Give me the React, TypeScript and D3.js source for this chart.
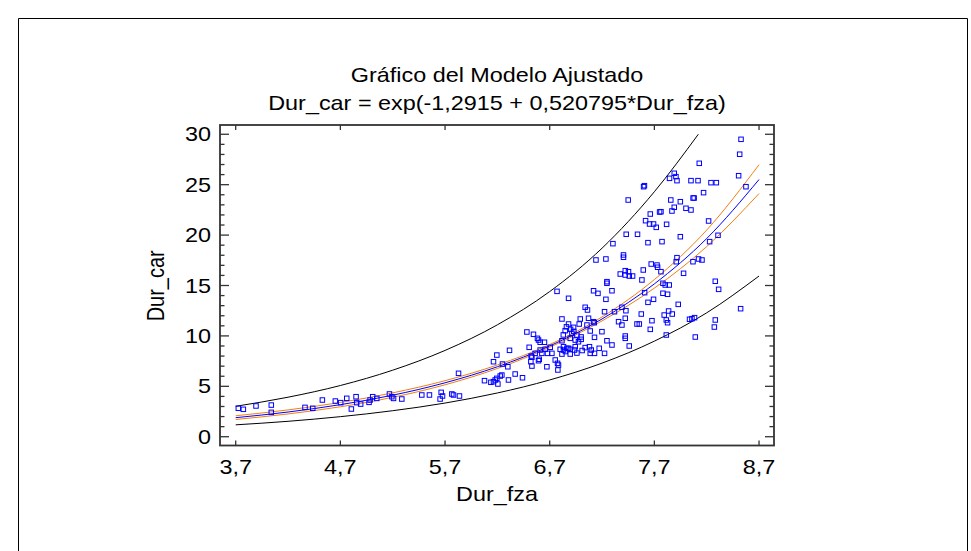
import React from "react";
import * as d3 from "d3";

const title1 = "Gráfico del Modelo Ajustado";
const title2 = "Dur_car = exp(-1,2915 + 0,520795*Dur_fza)";
const xLabel = "Dur_fza";
const yLabel = "Dur_car";

const xTicks = [3.7, 4.7, 5.7, 6.7, 7.7, 8.7];
const xTickLabels = ["3,7", "4,7", "5,7", "6,7", "7,7", "8,7"];
const yTicks = [0, 5, 10, 15, 20, 25, 30];
const yMinorTicks = [1,2,3,4,6,7,8,9,11,12,13,14,16,17,18,19,21,22,23,24,26,27,28,29];

// curves
const curveX = [3.7, 4.2, 4.7, 5.2, 5.7, 6.2, 6.7, 7.2, 7.7, 8.2, 8.7];
const fitY = [1.89, 2.45, 3.18, 4.12, 5.35, 6.94, 9.0, 11.68, 15.16, 19.66, 25.51];
const confUpperY = [2.08, 2.66, 3.40, 4.35, 5.56, 7.12, 9.14, 11.88, 15.59, 20.5, 26.98];
const confLowerY = [1.71, 2.26, 2.97, 3.91, 5.15, 6.77, 8.87, 11.49, 14.74, 18.86, 24.12];
const predUpperX = [3.7, 4.2, 4.7, 5.2, 5.7, 6.2, 6.7, 7.2, 7.7, 8.12];
const predUpperY = [3.02, 3.92, 5.08, 6.6, 8.56, 11.1, 14.4, 18.7, 24.3, 30.0];
const predLowerY = [1.18, 1.53, 1.99, 2.58, 3.34, 4.34, 5.63, 7.3, 9.48, 12.29, 15.94];

const obsX = [
  3.725,3.773,3.894,4.04,4.04,4.362,4.436,4.528,4.652,4.703,4.761,4.805,4.85,4.856,4.894,4.974,4.984,5.009,5.048,5.169,5.192,5.208,5.287,5.478,5.551,5.653,5.663,5.676,5.765,5.781,5.838,5.829,
  6.077,6.138,6.163,6.179,6.195,6.205,6.227,6.243,6.163,6.195,6.249,6.30,6.316,6.306,6.37,6.44,6.482,6.545,6.593,6.609,6.65,6.504,6.523,6.52,6.53,6.561,6.593,6.657,6.673,6.721,6.753,6.784,6.778,6.625,6.6,6.583,6.609,6.679,6.705,6.775,6.53,
  6.77,6.88,6.817,6.88,6.848,6.928,6.992,6.982,7.039,7.061,6.912,6.96,6.817,6.896,6.944,7.001,7.056,7.119,7.087,6.832,6.88,6.944,6.975,
  6.80,6.832,6.864,6.896,6.937,6.896,6.817,7.039,7.08,7.097,7.087,7.128,6.96,7.01,6.85,
  7.142,7.237,7.405,7.405,7.374,7.422,7.422,7.46,7.492,7.453,7.594,7.67,7.581,7.247,7.247,7.119,7.161,7.295,7.237,7.224,7.319,7.39,7.428,7.607,7.639,7.692,7.575,7.422,7.358,7.39,7.534,7.556,7.677,7.661,7.422,7.422,7.247,7.295,7.46,7.173,7.199,7.224,7.128,
  7.071,7.126,6.86,6.9,6.83,6.93,7.0,
  7.597,7.605,7.45,7.661,7.75,7.616,7.654,7.692,7.718,7.431,7.539,7.304,7.639,
  8.528,8.515,8.129,7.89,7.906,7.845,7.916,8.05,8.117,8.241,8.292,8.505,8.17,8.575,7.857,7.948,8.07,8.08,7.89,8.002,8.05,7.868,7.763,8.218,7.817,7.948,8.308,8.228,7.773,7.916,7.909,8.069,8.122,8.155,7.725,7.731,7.763,7.979,7.782,7.804,7.842,8.282,8.314,7.782,7.826,7.928,7.836,7.794,7.871,7.814,7.826,8.036,8.059,8.084,7.814,8.282,8.273,8.091,8.524
];
const obsY = [
  2.82,2.72,3.05,3.14,2.42,2.91,2.82,3.64,3.54,3.38,3.81,2.75,3.97,3.38,3.24,3.41,3.64,3.97,3.80,4.24,3.97,3.80,3.74,4.14,4.14,3.74,4.40,4.04,4.24,4.14,4.04,6.29,
  5.56,5.40,5.46,5.63,5.79,5.23,6.02,6.12,7.44,8.10,7.21,6.94,8.57,5.63,6.22,5.85,10.39,10.16,9.59,9.37,9.37,8.87,8.0,7.44,7.01,8.27,7.54,8.67,6.94,8.27,7.61,7.11,6.62,8.27,7.68,9.76,8.6,8.27,8.87,7.28,7.88,
  14.42,13.73,11.68,11.18,10.52,10.85,11.68,11.18,12.84,12.57,10.26,10.09,9.52,9.76,9.59,9.66,11.08,11.41,10.49,8.93,8.77,8.93,9.42,
  8.67,8.60,8.77,8.67,8.60,8.20,8.20,8.84,8.93,8.60,8.27,8.27,8.3,8.55,8.45,
  17.53,17.63,18.03,17.8,16.14,16.47,16.04,15.94,15.94,16.37,16.54,17.13,15.55,15.38,15.22,14.48,14.22,14.48,13.63,12.4,12.4,12.84,12.5,14.29,13.33,13.63,12.17,11.75,11.41,11.08,11.18,11.18,11.51,10.65,9.99,9.76,9.52,9.10,9.0,8.77,10.42,8.27,9.86,
  11.75,11.31,10.9,10.65,10.1,10.45,9.9,
  24.80,24.90,23.48,22.09,22.29,21.43,21.1,21.1,20.77,20.08,20.08,19.15,19.25,
  29.50,28.02,27.12,26.13,25.80,25.63,25.40,25.40,25.40,25.20,25.20,25.89,24.21,24.80,23.48,23.31,23.68,23.68,22.76,22.66,22.49,22.39,22.32,21.40,21.07,19.84,19.98,19.35,19.35,17.76,17.36,17.36,17.63,17.53,17.03,16.81,16.37,16.21,15.22,15.05,15.05,15.42,14.62,14.23,14.13,13.13,12.47,12.07,12.17,11.58,11.31,11.65,11.71,11.81,10.09,11.58,10.88,9.89,12.70
];

const W = 971;
const H = 551;
const FONT = "'Liberation Sans', Arial, sans-serif";
const FS = 20;
const SX = 1.17;

const x = d3.scaleLinear().domain([3.55, 8.843]).range([220, 774]);
const y = d3.scaleLinear().domain([-0.87, 30.92]).range([445.5, 125]);

function T(props: { x: number; y: number; anchor?: string; children: React.ReactNode; rotate?: boolean }) {
  const tr = props.rotate
    ? `translate(${props.x},${props.y}) scale(${SX},1) rotate(-90)`
    : `translate(${props.x},${props.y}) scale(${SX},1)`;
  return (
    <text transform={tr} textAnchor={props.anchor || "middle"} fontFamily={FONT} fontSize={FS} fill="#000">
      {props.children}
    </text>
  );
}

export default function App() {
  const line = d3
    .line<[number, number]>()
    .x((d) => x(d[0]))
    .y((d) => y(d[1]))
    .curve(d3.curveMonotoneX);
  const pts = (xs: number[], ys: number[]) => xs.map((v, i) => [v, ys[i]] as [number, number]);

  const [x0, x1] = x.range();
  const [y0, y1] = y.range();
  const sq = 4.5;

  return (
    <svg width={W} height={H} style={{ position: "fixed", left: 0, top: 0, background: "#fff" }}>
      <rect x={0} y={0} width={W} height={H} fill="#fff" />
      {/* outer frame */}
      <path d={`M18.5,${H + 5} V18.5 H967.5 V${H + 5}`} fill="none" stroke="#000" strokeWidth={1} />

      <T x={497} y={81.7}>{title1}</T>
      <T x={497} y={109.5}>{title2}</T>

      {/* curves */}
      <path d={line(pts(predUpperX, predUpperY)) || ""} fill="none" stroke="#000" strokeWidth={1} />
      <path d={line(pts(curveX, predLowerY)) || ""} fill="none" stroke="#000" strokeWidth={1} />
      <path d={line(pts(curveX, confUpperY)) || ""} fill="none" stroke="#f07f10" strokeWidth={1} />
      <path d={line(pts(curveX, confLowerY)) || ""} fill="none" stroke="#f07f10" strokeWidth={1} />
      <path d={line(pts(curveX, fitY)) || ""} fill="none" stroke="#0000ff" strokeWidth={1} />

      {/* observations */}
      {obsX.map((v, i) => (
        <rect
          key={i}
          x={x(v) - sq / 2}
          y={y(obsY[i]) - sq / 2}
          width={sq}
          height={sq}
          fill="none"
          stroke="#0000ff"
          strokeWidth={1}
        />
      ))}

      {/* frame */}
      <rect x={x0} y={y1} width={x1 - x0} height={y0 - y1} fill="none" stroke="#333" strokeWidth={1.8} />

      {/* y ticks */}
      {yTicks.map((t) => (
        <g key={"y" + t}>
          <line x1={x0} x2={x0 + 9} y1={y(t)} y2={y(t)} stroke="#333" strokeWidth={1.3} />
          <line x1={x1} x2={x1 - 9} y1={y(t)} y2={y(t)} stroke="#333" strokeWidth={1.3} />
          <T x={211} y={y(t) + 7} anchor="end">{String(t)}</T>
        </g>
      ))}
      {yMinorTicks.map((t) => (
        <g key={"ym" + t}>
          <line x1={x0} x2={x0 + 4.5} y1={y(t)} y2={y(t)} stroke="#333" strokeWidth={1.3} />
          <line x1={x1} x2={x1 - 4.5} y1={y(t)} y2={y(t)} stroke="#333" strokeWidth={1.3} />
        </g>
      ))}

      {/* x ticks */}
      {xTicks.map((t, i) => (
        <g key={"x" + t}>
          <line x1={x(t)} x2={x(t)} y1={y0} y2={y0 - 5} stroke="#333" strokeWidth={1.3} />
          <line x1={x(t)} x2={x(t)} y1={y1} y2={y1 + 5} stroke="#333" strokeWidth={1.3} />
          <T x={x(t)} y={474}>{xTickLabels[i]}</T>
        </g>
      ))}

      <T x={497} y={501}>{xLabel}</T>
      <T x={164} y={285.8} rotate>{yLabel}</T>
    </svg>
  );
}
